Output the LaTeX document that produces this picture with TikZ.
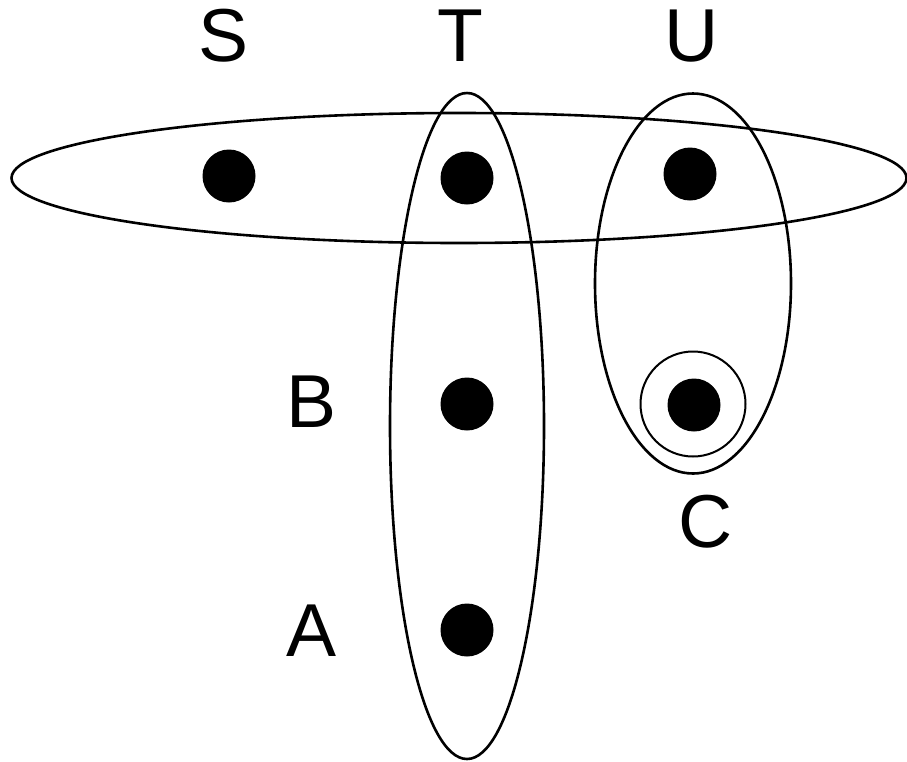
\documentclass[tikz,border=0pt]{standalone}
\usepackage{fontspec}
\setmainfont{Liberation Sans}
\usetikzlibrary{shapes.geometric}
\begin{document}
\begin{tikzpicture}[x=1pt,y=-1pt,
  dot/.style={circle,fill=black,inner sep=0pt,minimum size=53pt},
  setline/.style={ellipse,draw=black,line width=2.6pt,inner sep=0pt},
  lbl/.style={inner sep=0pt,font=\fontsize{75}{80}\selectfont}]
\useasboundingbox (0,0) rectangle (907,761);
\node[setline,minimum width=895pt,minimum height=130pt] (Srow) at (459,178) {};
\node[setline,minimum width=154pt,minimum height=666pt] (Tcol) at (467,426) {};
\node[setline,minimum width=196pt,minimum height=380pt] (Ucol) at (693,283.5) {};
\node[circle,draw=black,line width=2pt,inner sep=0pt,minimum size=105pt] (Cring) at (693,404) {};
\node[dot] (s1) at (229,176) {};
\node[dot] (t1) at (467,178) {};
\node[dot] (u1) at (690,174) {};
\node[dot] (b1) at (467,404) {};
\node[dot] (c1) at (694,405) {};
\node[dot] (a1) at (467,630) {};
\node[lbl] (lS) at (224,36) {S};
\node[lbl] (lT) at (460,36) {T};
\node[lbl] (lU) at (692,36) {U};
\node[lbl] (lB) at (312,402) {B};
\node[lbl] (lA) at (312,631) {A};
\node[lbl] (lC) at (706,522) {C};
\end{tikzpicture}
\end{document}
